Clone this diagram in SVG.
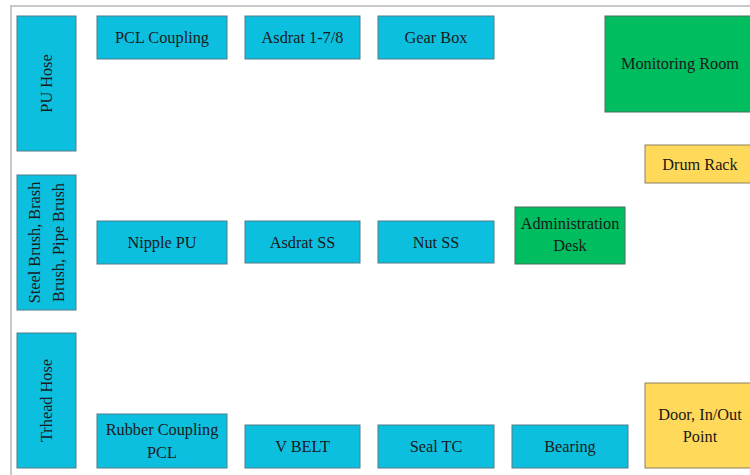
<svg xmlns="http://www.w3.org/2000/svg" width="750" height="475" viewBox="0 0 750 475">
<style>
.c{fill:#0DBFDF;stroke:#4f7c88;stroke-width:1}
.g{fill:#00BE5F;stroke:#4f6f5a;stroke-width:1}
.y{fill:#FFD959;stroke:#8a8060;stroke-width:1}
text{font-family:"Liberation Serif","Times New Roman",serif;font-size:16.3px;fill:#1a1a1a;text-anchor:middle;dominant-baseline:central}
</style>
<rect x="0" y="0" width="750" height="475" fill="#ffffff"/>
<rect x="11" y="6" width="760" height="480" fill="none" stroke="#c8c8c8" stroke-width="2"/>
<g id="pu-hose"><rect class="c" x="17" y="16" width="59" height="135"/><text transform="translate(46.5,83.5) rotate(-90)">PU Hose</text></g>
<g id="pcl-coupling"><rect class="c" x="97" y="16" width="130" height="43"/><text x="162" y="37.5">PCL Coupling</text></g>
<g id="asdrat-178"><rect class="c" x="245" y="16" width="115" height="43"/><text x="302.5" y="37.5">Asdrat 1-7/8</text></g>
<g id="gear-box"><rect class="c" x="378" y="16" width="116" height="43"/><text x="436" y="37.5">Gear Box</text></g>
<g id="monitoring-room"><rect class="g" x="605" y="16" width="150" height="96"/><text x="680" y="63">Monitoring Room</text></g>
<g id="drum-rack"><rect class="y" x="645" y="145" width="110" height="38"/><text x="700" y="164">Drum Rack</text></g>
<g id="steel-brush"><rect class="c" x="17" y="175" width="59" height="135"/><text transform="translate(34.5,242.5) rotate(-90)">Steel Brush, Brash</text><text transform="translate(58.5,242.5) rotate(-90)">Brush, Pipe Brush</text></g>
<g id="nipple-pu"><rect class="c" x="97" y="221" width="130" height="43"/><text x="162" y="242.5">Nipple PU</text></g>
<g id="asdrat-ss"><rect class="c" x="245" y="221" width="115" height="42"/><text x="302.5" y="242">Asdrat SS</text></g>
<g id="nut-ss"><rect class="c" x="378" y="221" width="116" height="42"/><text x="436" y="242">Nut SS</text></g>
<g id="administration-desk"><rect class="g" x="515" y="207" width="110" height="57"/><text x="570" y="223">Administration</text><text x="570" y="245">Desk</text></g>
<g id="trhead-hose"><rect class="c" x="17" y="333" width="59" height="135"/><text transform="translate(46.5,400.5) rotate(-90)">Trhead Hose</text></g>
<g id="rubber-coupling-pcl"><rect class="c" x="97" y="414" width="130" height="54"/><text x="162" y="429">Rubber Coupling</text><text x="162" y="452">PCL</text></g>
<g id="v-belt"><rect class="c" x="245" y="425" width="115" height="43"/><text x="302.5" y="446.5">V BELT</text></g>
<g id="seal-tc"><rect class="c" x="378" y="425" width="116" height="43"/><text x="436" y="446.5">Seal TC</text></g>
<g id="bearing"><rect class="c" x="512" y="425" width="116" height="43"/><text x="570" y="446.5">Bearing</text></g>
<g id="door"><rect class="y" x="645" y="383" width="110" height="85"/><text x="700" y="414">Door, In/Out</text><text x="700" y="436">Point</text></g>
<g id="connectors"></g>
</svg>
